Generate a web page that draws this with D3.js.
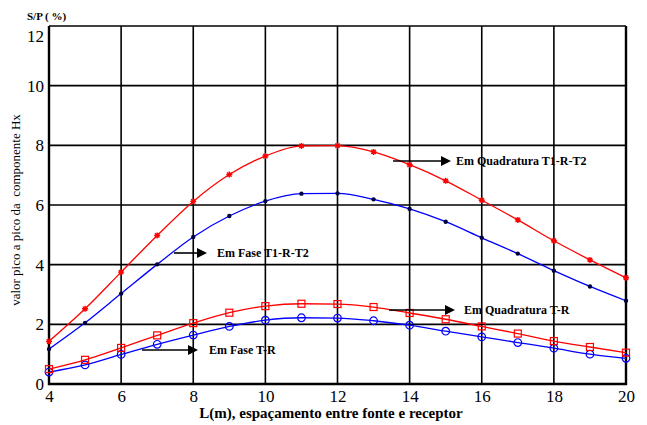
<!DOCTYPE html>
<html>
<head>
<meta charset="utf-8">
<script src="https://cdn.jsdelivr.net/npm/d3@7"></script>
<style>
  body { margin: 0; background: #fff; }
  svg { display: block; }
  svg text { font-family: "Liberation Serif", "DejaVu Serif", "Times New Roman", Times, serif; }
</style>
</head>
<body>
<div id="chart"></div>
<script>
// distance L (m)
var distances = [4, 5, 6, 7, 8, 9, 10, 11, 12, 13, 14, 15, 16, 17, 18, 19, 20];

var quadT1RT2 = [1.43, 2.52, 3.75, 4.98, 6.12, 7.02, 7.64, 7.98, 7.99, 7.78, 7.35, 6.81, 6.16, 5.5, 4.8, 4.16, 3.56];
var faseT1RT2 = [1.17, 2.05, 3.03, 4.01, 4.93, 5.63, 6.13, 6.38, 6.39, 6.19, 5.87, 5.44, 4.9, 4.37, 3.8, 3.27, 2.79];
var quadTR = [0.5, 0.81, 1.21, 1.63, 2.04, 2.39, 2.61, 2.69, 2.68, 2.58, 2.38, 2.17, 1.93, 1.69, 1.44, 1.24, 1.05];
var faseTR = [0.4, 0.64, 0.99, 1.33, 1.64, 1.93, 2.14, 2.22, 2.21, 2.12, 1.97, 1.77, 1.58, 1.39, 1.2, 1.0, 0.86];

var xTicks = [4, 6, 8, 10, 12, 14, 16, 18, 20];
var yTicks = [0, 2, 4, 6, 8, 10, 12];

var width = 647, height = 425;
var margin = {left: 49, right: 21, top: 26, bottom: 41};

var svg = d3.select('#chart')
  .append('svg')
  .attr('width', width)
  .attr('height', height);

var x = d3.scaleLinear().domain([4, 20]).range([margin.left, width - margin.right]);
var y = d3.scaleLinear().domain([0, 12]).range([height - margin.bottom, margin.top]);

// grid
var grid = svg.append('g').attr('class', 'grid');
grid.selectAll('.vline')
  .data(xTicks)
  .enter().append('line')
  .attr('x1', function (d) { return x(d); })
  .attr('x2', function (d) { return x(d); })
  .attr('y1', y(0))
  .attr('y2', y(12))
  .attr('stroke', '#000')
  .attr('stroke-width', 1.6);
grid.selectAll('.hline')
  .data(yTicks)
  .enter().append('line')
  .attr('x1', x(4))
  .attr('x2', x(20))
  .attr('y1', function (d) { return y(d); })
  .attr('y2', function (d) { return y(d); })
  .attr('stroke', '#000')
  .attr('stroke-width', 1.6);

// frame (left, bottom, right heavier)
svg.append('path')
  .attr('d', 'M' + x(4) + ',' + y(12) + 'V' + y(0) + 'H' + x(20) + 'V' + y(12))
  .attr('fill', 'none')
  .attr('stroke', '#000')
  .attr('stroke-width', 2.4);

// axes (labels only)
var xAxis = svg.append('g')
  .attr('transform', 'translate(0,' + y(0) + ')')
  .call(d3.axisBottom(x).tickValues(xTicks).tickSize(0).tickPadding(6).tickFormat(d3.format('d')));
xAxis.select('.domain').remove();
xAxis.attr('font-family', null).attr('font-size', null);
xAxis.selectAll('text')
  .style('font-size', '17px')
  .attr('fill', '#000')
  .attr('dy', '0.71em');

var yAxis = svg.append('g')
  .attr('transform', 'translate(' + x(4) + ',0)')
  .call(d3.axisLeft(y).tickValues(yTicks).tickSize(0).tickPadding(5).tickFormat(d3.format('d')));
yAxis.select('.domain').remove();
yAxis.attr('font-family', null).attr('font-size', null);
yAxis.selectAll('text')
  .style('font-size', '17px')
  .attr('fill', '#000')
  .attr('dy', function (d) { return d === 12 ? '0.9em' : '0.32em'; });

// titles
svg.append('text')
  .attr('x', 331)
  .attr('y', 418)
  .attr('text-anchor', 'middle')
  .style('font-size', '15px')
  .style('font-weight', 'bold')
  .text('L(m), espaçamento entre fonte e receptor');

svg.append('text')
  .attr('transform', 'translate(20,210) rotate(-90)')
  .attr('text-anchor', 'middle')
  .style('font-size', '13px')
  .style('white-space', 'pre')
  .text('valor pico a pico da  componente Hx');

svg.append('text')
  .attr('x', 27)
  .attr('y', 20)
  .style('font-size', '11px')
  .style('font-weight', 'bold')
  .text('S/P ( %)');

// series
var line = d3.line()
  .x(function (d) { return x(d[0]); })
  .y(function (d) { return y(d[1]); })
  .curve(d3.curveMonotoneX);

function pairs(vals) {
  return distances.map(function (d, i) { return [d, vals[i]]; });
}

function drawSeries(vals, color, marker) {
  var g = svg.append('g');
  g.append('path')
    .datum(pairs(vals))
    .attr('d', line)
    .attr('fill', 'none')
    .attr('stroke', color)
    .attr('stroke-width', 1.3);
  var pts = g.selectAll('.pt')
    .data(pairs(vals))
    .enter().append('g')
    .attr('transform', function (d) { return 'translate(' + x(d[0]) + ',' + y(d[1]) + ')'; });
  if (marker === 'star') {
    pts.append('path')
      .attr('d', 'M-3,0H3M0,-3V3M-2.2,-2.2L2.2,2.2M-2.2,2.2L2.2,-2.2')
      .attr('stroke', color)
      .attr('stroke-width', 1.4);
  } else if (marker === 'dot') {
    pts.append('circle')
      .attr('r', 2.2)
      .attr('fill', '#000040');
  } else if (marker === 'square') {
    pts.append('rect')
      .attr('x', -3.5).attr('y', -3.5)
      .attr('width', 7).attr('height', 7)
      .attr('fill', 'none')
      .attr('stroke', color)
      .attr('stroke-width', 1.2);
  } else {
    pts.append('circle')
      .attr('r', 3.8)
      .attr('fill', 'none')
      .attr('stroke', color)
      .attr('stroke-width', 1.2);
  }
}

drawSeries(faseTR, '#0000ff', 'circle');
drawSeries(quadTR, '#ff0000', 'square');
drawSeries(faseT1RT2, '#0000ff', 'dot');
drawSeries(quadT1RT2, '#ff0000', 'star');

// annotations with arrows
var notes = [
  {label: 'Em Quadratura T1-R-T2', x0: 393, x1: 451, y: 161, tx: 456},
  {label: 'Em Fase T1-R-T2', x0: 174, x1: 207, y: 253, tx: 217},
  {label: 'Em Quadratura T-R', x0: 389, x1: 455, y: 310, tx: 464},
  {label: 'Em Fase T-R', x0: 142, x1: 198, y: 350, tx: 209}
];

var ann = svg.selectAll('.ann')
  .data(notes)
  .enter().append('g')
  .attr('class', 'ann');
ann.append('line')
  .attr('x1', function (d) { return d.x0; })
  .attr('x2', function (d) { return d.x1 - 9; })
  .attr('y1', function (d) { return d.y; })
  .attr('y2', function (d) { return d.y; })
  .attr('stroke', '#000')
  .attr('stroke-width', 1.6);
ann.append('path')
  .attr('d', function (d) {
    return 'M' + (d.x1 - 10) + ',' + (d.y - 5) + 'L' + d.x1 + ',' + d.y + 'L' + (d.x1 - 10) + ',' + (d.y + 5) + 'Z';
  })
  .attr('fill', '#000');
ann.append('text')
  .attr('x', function (d) { return d.tx; })
  .attr('y', function (d) { return d.y + 4; })
  .style('font-size', '12px')
  .style('font-weight', 'bold')
  .text(function (d) { return d.label; });
</script>
</body>
</html>
